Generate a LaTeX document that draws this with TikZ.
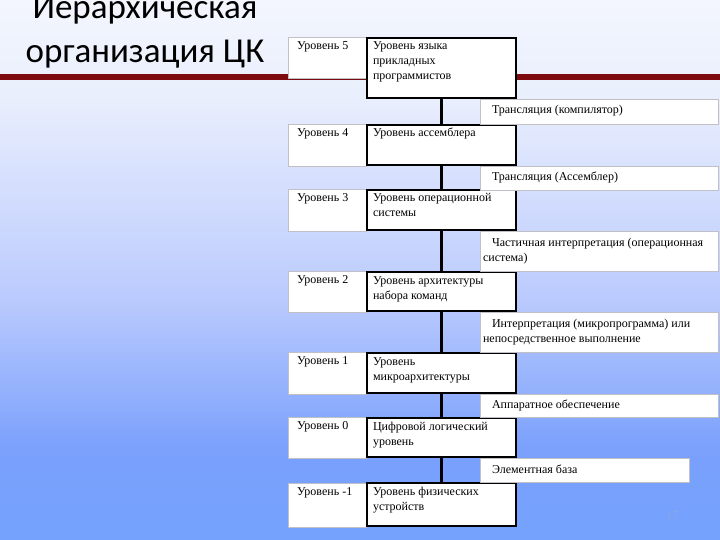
\documentclass[tikz,border=0pt]{standalone}
\usepackage{fontspec}
\setmainfont{Liberation Serif}
\newfontfamily\titlefont{Carlito}
\usetikzlibrary{positioning}
\definecolor{slidered}{RGB}{125,10,14}
\definecolor{bgtop}{RGB}{243,246,253}
\definecolor{bgupper}{RGB}{234,239,253}
\definecolor{bgmid}{RGB}{186,202,253}
\definecolor{bglow}{RGB}{122,160,252}
\definecolor{bgend}{RGB}{116,162,252}
\definecolor{cellline}{RGB}{192,192,198}
\definecolor{pagenum}{RGB}{140,168,228}
% fixed-size cell: [first baseline]{width}{height}{left inset}{text}
\newcommand{\cellfill}[5][12.5pt]{\parbox[c][#3][t]{#2}{\raggedright\leftskip=#4\parindent=0pt\rule{0pt}{#1}#5}}

\begin{document}
\begin{tikzpicture}[
        x=1pt, y=-1pt,
        levelcell/.style={rectangle, draw=cellline, fill=white, line width=0.8pt, inner sep=0pt, outer sep=0pt, anchor=north west, font=\fontsize{12}{15}\selectfont},
        levelbox/.style={rectangle, draw=black, fill=white, line width=2pt, inner sep=0pt, outer sep=0pt, anchor=north west, font=\fontsize{12}{15}\selectfont},
        transcell/.style={rectangle, draw=cellline, fill=white, line width=0.8pt, inner sep=0pt, outer sep=0pt, anchor=north west, font=\fontsize{12}{15}\selectfont},
        titletext/.style={anchor=base, font=\titlefont\fontsize{35}{44}\selectfont},
        link/.style={line width=3pt, black}
    ]
        \clip (0,0) rectangle (720,540);

        % slide background
        \shade[top color=bgtop, bottom color=bgupper] (0,0) rectangle (720,95);
        \shade[top color=bgupper, bottom color=bgmid] (0,95) rectangle (720,300);
        \shade[top color=bgmid, bottom color=bglow] (0,300) rectangle (720,450);
        \shade[top color=bglow, bottom color=bgend] (0,450) rectangle (720,540);
        \fill[slidered] (0,74) rectangle (720,80);

        % title
        \node[titletext] (title1) at (145,19) {Иерархическая};
        \node[titletext] (title2) at (145,63) {организация ЦК};

        % level numbers
        \node[levelcell] (u5) at (288,37) {\cellfill{78pt}{41pt}{9pt}{Уровень 5}};
        \node[levelcell] (u4) at (288,124) {\cellfill{78pt}{42pt}{9pt}{Уровень 4}};
        \node[levelcell] (u3) at (288,189) {\cellfill{78pt}{42pt}{9pt}{Уровень 3}};
        \node[levelcell] (u2) at (288,271) {\cellfill{78pt}{41pt}{9pt}{Уровень 2}};
        \node[levelcell] (u1) at (288,352) {\cellfill{78pt}{42pt}{9pt}{Уровень 1}};
        \node[levelcell] (u0) at (288,417) {\cellfill{78pt}{41pt}{9pt}{Уровень 0}};
        \node[levelcell] (um1) at (288,483) {\cellfill{78pt}{44pt}{9pt}{Уровень -1}};

        % levels
        \node[levelbox] (b5) at (367,38) {\cellfill[12pt]{149pt}{60pt}{6pt}{Уровень языка\\прикладных\\программистов}};
        \node[levelbox] (b4) at (367,125) {\cellfill[12pt]{149pt}{40pt}{6pt}{Уровень ассемблера}};
        \node[levelbox] (b3) at (367,190) {\cellfill[12pt]{149pt}{40pt}{6pt}{Уровень операционной\\системы}};
        \node[levelbox] (b2) at (367,272) {\cellfill[12pt]{149pt}{39pt}{6pt}{Уровень архитектуры\\набора команд}};
        \node[levelbox] (b1) at (367,353) {\cellfill[12pt]{149pt}{40pt}{6pt}{Уровень\\микроархитектуры}};
        \node[levelbox] (b0) at (367,418) {\cellfill[12pt]{149pt}{39pt}{6pt}{Цифровой логический\\уровень}};
        \node[levelbox] (bm1) at (367,483) {\cellfill[12pt]{149pt}{43pt}{6pt}{Уровень физических\\устройств}};

        % transitions between levels
        \node[transcell] (t1) at (480,99) {\cellfill[15pt]{238pt}{25pt}{3pt}{\hspace*{9pt}Трансляция (компилятор)}};
        \node[transcell] (t2) at (480,166) {\cellfill[15pt]{238pt}{24pt}{3pt}{\hspace*{9pt}Трансляция (Ассемблер)}};
        \node[transcell] (t3) at (480,231) {\cellfill[15pt]{238pt}{40pt}{3pt}{\hspace*{9pt}Частичная интерпретация (операционная\\система)}};
        \node[transcell] (t4) at (480,312) {\cellfill[15pt]{238pt}{40pt}{3pt}{\hspace*{9pt}Интерпретация (микропрограмма) или\\непосредственное выполнение}};
        \node[transcell] (t5) at (480,394) {\cellfill[14pt]{238pt}{23pt}{3pt}{\hspace*{9pt}Аппаратное обеспечение}};
        \node[transcell] (t6) at (480,458) {\cellfill[15pt]{209pt}{24pt}{3pt}{\hspace*{9pt}Элементная база}};

        % connectors
        \draw[link] (b5.south) -- (b4.north);
        \draw[link] (b4.south) -- (b3.north);
        \draw[link] (b3.south) -- (b2.north);
        \draw[link] (b2.south) -- (b1.north);
        \draw[link] (b1.south) -- (b0.north);
        \draw[link] (b0.south) -- (bm1.north);

        % slide number
        \node[anchor=base, text=pagenum, font=\fontsize{12}{14}\selectfont] (pnum) at (672,519) {17};
\end{tikzpicture}
\end{document}
